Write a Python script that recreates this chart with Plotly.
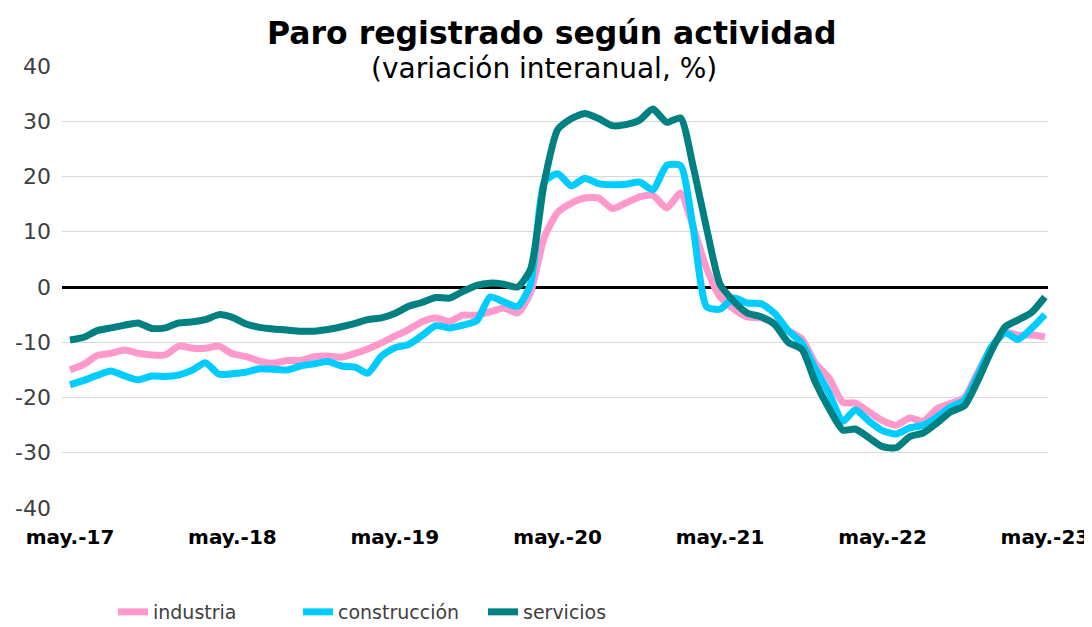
import pandas as pd
import plotly.graph_objects as go

dates = pd.date_range("2017-05-01", "2023-05-01", freq="MS")

industria = [
    -15.0, -14.0, -12.4, -12.0, -11.4, -12.0, -12.3, -12.3, -10.7, -11.1,
    -11.1, -10.7, -12.1, -12.6, -13.4, -13.8, -13.3, -13.3, -12.6, -12.5,
    -12.7, -12.0, -11.2, -10.1, -8.9, -7.7, -6.3, -5.6, -6.2, -5.1,
    -5.1, -4.5, -3.8, -4.7, -1.0, 9.0, 13.5, 15.2, 16.1, 16.1,
    14.2, 15.2, 16.3, 16.6, 14.3, 17.0, 11.0, 3.3, -1.8, -4.0,
    -5.4, -5.6, -6.5, -7.9, -9.4, -13.8, -16.5, -20.9, -21.0, -22.6,
    -24.2, -25.0, -23.7, -24.3, -22.0, -21.1, -20.0, -15.5, -11.0, -8.2,
    -8.7, -8.7, -9.0,
]

construccion = [
    -17.7, -16.9, -16.0, -15.2, -16.1, -16.8, -16.1, -16.2, -15.9, -15.0,
    -13.7, -15.8, -15.7, -15.4, -14.8, -14.9, -15.0, -14.3, -13.9, -13.5,
    -14.3, -14.5, -15.6, -12.5, -11.0, -10.4, -8.8, -7.0, -7.4, -6.9,
    -6.1, -1.8, -2.7, -3.5, 0.5, 19.0, 20.5, 18.3, 19.7, 18.7,
    18.5, 18.6, 19.0, 17.6, 22.0, 22.0, 11.0, -3.6, -4.0, -2.0,
    -2.9, -3.0, -4.8, -7.9, -10.2, -14.8, -19.2, -24.3, -22.2, -24.3,
    -26.0, -26.6, -25.5, -25.0, -23.5, -21.7, -20.5, -16.0, -10.8, -8.3,
    -9.5, -7.5, -5.0,
]

servicios = [
    -9.6, -9.1, -7.9, -7.4, -6.9, -6.5, -7.5, -7.4, -6.5, -6.3,
    -5.9, -5.0, -5.5, -6.7, -7.3, -7.6, -7.8, -8.0, -8.0, -7.7,
    -7.2, -6.6, -5.9, -5.6, -4.8, -3.5, -2.8, -1.9, -2.0, -0.8,
    0.3, 0.7, 0.5, 0.0, 3.2, 19.0, 28.5, 30.5, 31.4, 30.5,
    29.2, 29.4, 30.2, 32.2, 29.8, 30.6, 22.0, 10.5, 0.5, -2.6,
    -4.7, -5.4, -6.8, -10.0, -11.3, -17.2, -22.0, -25.9, -25.7, -27.3,
    -28.9, -29.1, -27.1, -26.4, -24.6, -22.6, -21.5, -17.0, -11.5, -7.2,
    -6.0, -4.6, -1.8,
]

tick_dates = pd.date_range("2017-05-01", "2023-05-01", freq="12MS")
tick_labels = ["may.-17", "may.-18", "may.-19", "may.-20", "may.-21", "may.-22", "may.-23"]

y_ticks = [-40, -30, -20, -10, 0, 10, 20, 30, 40]
y_tick_labels = ["-40", "-30", "-20", "-10", "0", "10", "20", "30", "40"]

series = [
    ("industria", industria, "#FF99CC"),
    ("construcción", construccion, "#00CCFF"),
    ("servicios", servicios, "#008080"),
]

FONT = "DejaVu Sans"

# plot area (figure coords): left 54, top 58, width 986, height 442
fig = go.Figure()
for name, vals, color in series:
    fig.add_trace(go.Scatter(
        x=dates, y=vals, name=name, mode="lines",
        line=dict(color=color, width=7, shape="spline", smoothing=0.6),
    ))

fig.update_layout(
    width=1092, height=627,
    paper_bgcolor="white", plot_bgcolor="white",
    margin=dict(l=54, r=52, t=58, b=127, autoexpand=False),
    font=dict(family=FONT, color="#404040"),
    showlegend=True,
    legend=dict(
        orientation="h", xref="paper", x=0.0517, xanchor="left",
        yref="container", y=1 - 604 / 627, yanchor="middle",
        font=dict(size=19, color="#404040"), itemwidth=30,
        entrywidth=140, entrywidthmode="pixels", tracegroupgap=0,
    ),
    annotations=[
        dict(text="<b>Paro registrado según actividad</b>", xref="paper", yref="paper",
             x=0.497, y=(500 - 25) / 442, xanchor="center", yanchor="middle",
             showarrow=False, font=dict(size=31.5, color="black", family=FONT)),
        dict(text="(variación interanual, %)", xref="paper", yref="paper",
             x=0.489, y=(500 - 61) / 442, xanchor="center", yanchor="middle",
             showarrow=False, font=dict(size=28, color="black", family=FONT)),
    ],
)

fig.update_xaxes(
    range=[pd.Timestamp("2017-04-13"), pd.Timestamp("2023-05-08")],
    tickvals=tick_dates, ticktext=["<b>%s</b>" % t for t in tick_labels],
    tickfont=dict(size=20, color="black", family=FONT),
    showgrid=False, showline=False, zeroline=False, ticks="",
    ticklabelstandoff=15, automargin=False,
)
fig.update_yaxes(
    range=[-40, 40], tickvals=y_ticks, ticktext=y_tick_labels,
    gridcolor="#D9D9D9", gridwidth=1,
    zeroline=True, zerolinecolor="black", zerolinewidth=3,
    showline=False, ticks="",
    tickfont=dict(size=22, color="#404040", family=FONT),
    ticklabelstandoff=10, automargin=False,
)

fig.write_html("out.html")
